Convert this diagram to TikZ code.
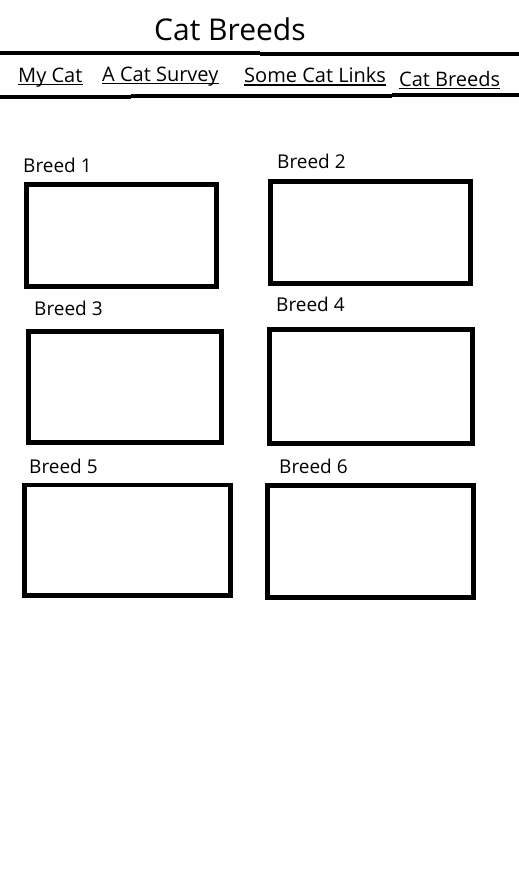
\documentclass[tikz,border=0pt]{standalone}
\usepackage{fontspec}
\setmainfont{Open Sans}
\begin{document}
\begin{tikzpicture}[x=1pt,y=-1pt,
  bar/.style={line width=4.3pt},
  box/.style={line width=4.6pt},
  title/.style={inner sep=0pt,anchor=base west,font=\fontsize{30}{30}\selectfont},
  navlink/.style={inner sep=0pt,anchor=base west,font=\fontsize{20}{20}\selectfont},
  label/.style={inner sep=0pt,anchor=base west,font=\fontsize{19}{19}\selectfont},
  uline/.style={line width=1.3pt}]
\useasboundingbox[fill=white] (0,0) rectangle (519,886);
% title
\node[title] (t) at (154,40.5) {Cat Breeds};
% header bars
\draw[bar] (0,53.2) -- (260,53.2);
\draw[bar] (260,54.2) -- (519,54.2);
\draw[bar] (0,96.8) -- (131,96.8);
\draw[bar] (131,96) -- (391.7,96);
\draw[bar] (391.7,95) -- (519,95);
% nav links
\node[navlink] (n1) at (18,82) {My Cat};
\node[navlink] (n2) at (102,81) {A Cat Survey};
\node[navlink] (n3) at (244,82.7) {Some Cat Links};
\node[navlink] (n4) at (399,86) {Cat Breeds};
\foreach \n in {n1,n2,n3,n4}
  \draw[uline] ([yshift=-2.2pt]\n.base west) -- ([yshift=-2.2pt]\n.base east);
% breed labels
\node[label] (l1) at (23,172) {Breed 1};
\node[label] (l2) at (277,168) {Breed 2};
\node[label] (l3) at (34,315.5) {Breed 3};
\node[label] (l4) at (276,311) {Breed 4};
\node[label] (l5) at (29,473.3) {Breed 5};
\node[label] (l6) at (279,473.3) {Breed 6};
% boxes
\draw[box] (26.5,184.5) rectangle (216.5,286.5);
\draw[box] (270.5,181.5) rectangle (470.5,283.2);
\draw[box] (28.5,331.5) rectangle (221.5,442.2);
\draw[box] (269.6,329.4) rectangle (472.4,443.4);
\draw[box] (24.3,485) rectangle (230.4,595.4);
\draw[box] (267.3,485.3) rectangle (473.4,597.4);
\end{tikzpicture}
\end{document}
